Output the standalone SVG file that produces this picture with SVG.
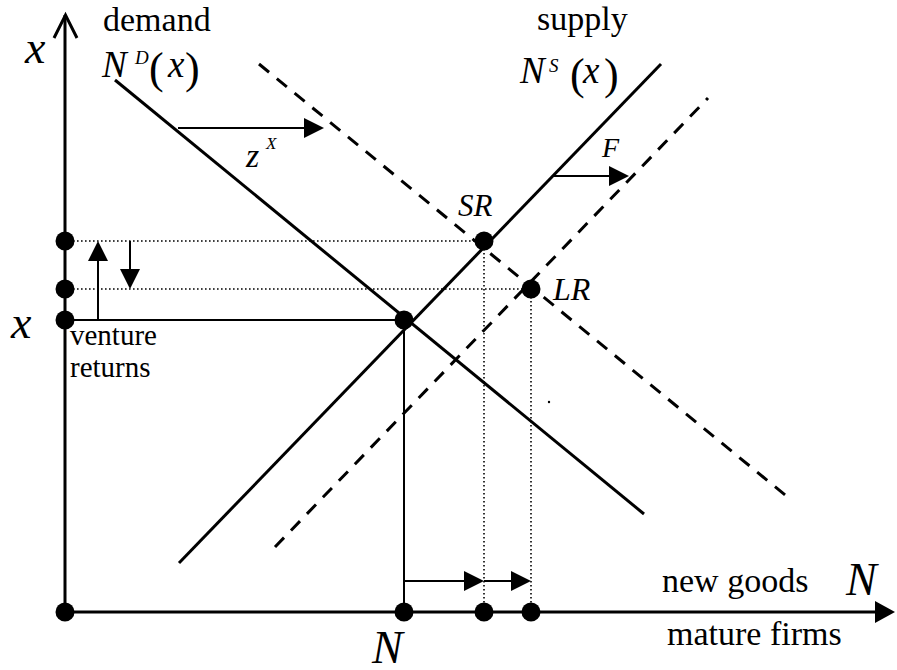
<svg xmlns="http://www.w3.org/2000/svg" width="897" height="670" viewBox="0 0 897 670">
<defs>
<marker id="ah" viewBox="0 0 20 20" refX="18" refY="10" markerWidth="20" markerHeight="20" markerUnits="userSpaceOnUse" orient="auto">
<path d="M0,0 L20,10 L0,20 Z" fill="#000"/>
</marker>
<style>
.ax{stroke:#000;stroke-width:3;fill:none}
.sol{stroke:#000;stroke-width:3;fill:none}
.dsh{stroke:#000;stroke-width:3;fill:none;stroke-dasharray:13 10}
.thin{stroke:#000;stroke-width:2;fill:none}
.dot{stroke:#000;stroke-width:1.6;fill:none;stroke-dasharray:1.6 2.4}
.arr{stroke:#000;stroke-width:2;fill:none;marker-end:url(#ah)}
.pt{fill:#000}
text{font-family:"Liberation Serif","DejaVu Serif",serif}
.i{font-style:italic}
</style>
</defs>
<rect width="897" height="670" fill="#fff"/>
<g id="connectors">
<line class="ax" x1="65" y1="612" x2="65" y2="15"/>
<polyline class="ax" points="54,38 65.5,15 77,38"/>
<line class="ax" x1="65" y1="612" x2="878" y2="612"/>
<path d="M875,601 L895,612 L875,623 Z" fill="#000"/>
<line class="sol" x1="115" y1="80" x2="644" y2="514"/>
<line class="dsh" x1="259" y1="64" x2="790" y2="499"/>
<line class="sol" x1="179" y1="563" x2="661" y2="64"/>
<line class="dsh" x1="275" y1="547" x2="708" y2="98"/>
<line class="thin" x1="65" y1="320" x2="404" y2="320"/>
<line class="thin" x1="404" y1="320" x2="404" y2="612"/>
<line class="dot" x1="65" y1="241" x2="484" y2="241"/>
<line class="dot" x1="65" y1="289" x2="531" y2="289"/>
<line class="dot" x1="484" y1="241" x2="484" y2="612"/>
<line class="dot" x1="531" y1="289" x2="531" y2="612"/>
<line class="arr" x1="98" y1="320" x2="98" y2="243"/>
<line class="arr" x1="130" y1="241" x2="130" y2="287"/>
<line class="arr" x1="404" y1="581" x2="482" y2="581"/>
<line class="arr" x1="484" y1="581" x2="529" y2="581"/>
<line class="arr" x1="178" y1="128" x2="322" y2="128"/>
<line class="arr" x1="552" y1="176" x2="627" y2="176"/>
</g>
<g fill="#000">
<g id="origin"><circle class="pt" cx="65" cy="612" r="9.5"/></g>
<g id="x-high"><circle class="pt" cx="65" cy="241" r="9.5"/></g>
<g id="x-mid"><circle class="pt" cx="65" cy="289" r="9.5"/></g>
<g id="x-eq"><circle class="pt" cx="65" cy="320" r="9.5"/></g>
<g id="eq"><circle class="pt" cx="404" cy="320" r="9.5"/></g>
<g id="sr"><circle class="pt" cx="484" cy="241" r="9.5"/><text class="i" x="458" y="216" font-size="31">SR</text></g>
<g id="lr"><circle class="pt" cx="531" cy="289" r="9.5"/><text class="i" x="553" y="300" font-size="32">LR</text></g>
<g id="n-eq"><circle class="pt" cx="404" cy="612" r="9.5"/></g>
<g id="n-sr"><circle class="pt" cx="484" cy="612" r="9.5"/></g>
<g id="n-lr"><circle class="pt" cx="531" cy="612" r="9.5"/></g>
<g id="stray"><circle class="pt" cx="549" cy="402" r="1.2"/></g>
<g id="labels">
<text class="i" x="25" y="63" font-size="46">x</text>
<text class="i" x="11" y="338" font-size="46">x</text>
<text class="i" x="372" y="663" font-size="46">N</text>
<text class="i" x="846" y="595" font-size="46">N</text>
<text x="103" y="31" font-size="34">demand</text>
<text x="537" y="30" font-size="34">supply</text>
<text class="i" x="102" y="77" font-size="37">N</text>
<text class="i" x="135" y="64" font-size="19">D</text>
<text x="149" y="83" font-size="44">(</text>
<text class="i" x="168" y="77" font-size="37">x</text>
<text x="185" y="83" font-size="44">)</text>
<text class="i" x="520" y="83" font-size="37">N</text>
<text class="i" x="549" y="72" font-size="19">S</text>
<text x="570" y="89" font-size="44">(</text>
<text class="i" x="583" y="83" font-size="37">x</text>
<text x="604" y="89" font-size="44">)</text>
<text class="i" x="246" y="167" font-size="34">z</text>
<text class="i" x="266" y="149" font-size="17">X</text>
<text class="i" x="602" y="157" font-size="28">F</text>
<text x="70" y="345" font-size="29">venture</text>
<text x="70" y="377" font-size="29">returns</text>
<text x="662" y="592" font-size="34">new goods</text>
<text x="667" y="645" font-size="34">mature firms</text>
</g>
</g>
</svg>
